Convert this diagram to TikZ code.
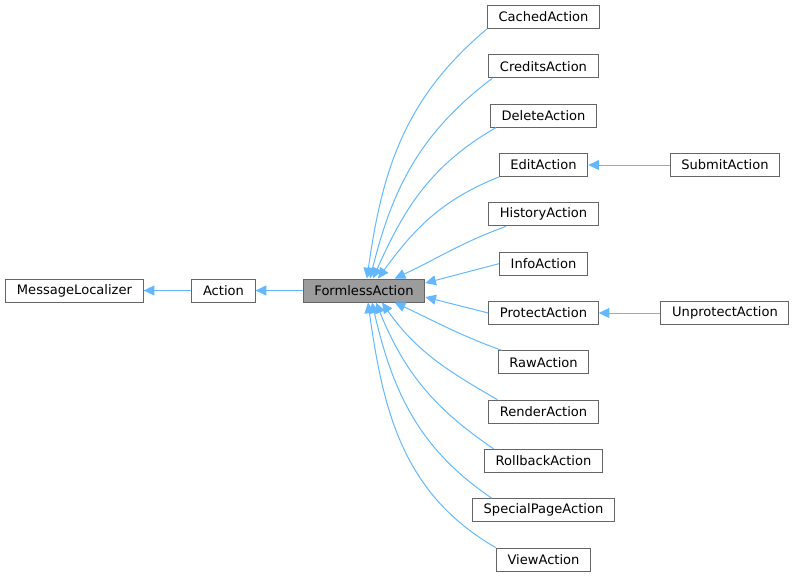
\documentclass[tikz,border=0pt]{standalone}
\usepackage{fontspec}
\setmainfont{DejaVu Sans}
\usetikzlibrary{arrows.meta,
                positioning}
\definecolor{edgeblue}{HTML}{63B8FF}
\definecolor{boxgray}{HTML}{666666}
\tikzset{klass/.style =
   {rectangle,
    draw=boxgray,
    line width=0.75pt,
    fill=white,
    text centered,
    inner xsep=8.4pt,
    inner ysep=0pt,
    minimum height=17.25pt,
    font=\fontsize{9.8pt}{11pt}\selectfont}}
\tikzset{current/.style = {klass, fill=boxgray!65}}
\tikzset{inherit/.style = {draw=edgeblue, line width=0.75pt,
    -{Triangle[length=8pt,width=7.5pt]}}}

\begin{document}
\begin{tikzpicture}[x=0.75pt, y=-0.75pt]
        \useasboundingbox (0,0) rectangle (795,579);

        \node [current] (formless) at (364,290.5) {FormlessAction};

        \node [klass,
               left of = formless,
               node distance = 105.4pt] (action) {Action};

        \node [klass,
               left of = action,
               node distance = 111.75pt] (localizer) {MessageLocalizer};

        % subclasses, one column
        \node [klass] (cached) at (543.5,17) {CachedAction};

        \node [klass,
               below of = cached,
               node distance = 37pt] (credits) {CreditsAction};

        \node [klass,
               below of = credits,
               node distance = 37pt] (delete) {DeleteAction};

        \node [klass,
               below of = delete,
               node distance = 37pt] (edit) {EditAction};

        \node [klass,
               below of = edit,
               node distance = 37pt] (history) {HistoryAction};

        \node [klass,
               below of = history,
               node distance = 37pt] (info) {InfoAction};

        \node [klass,
               below of = info,
               node distance = 37pt] (protect) {ProtectAction};

        \node [klass,
               below of = protect,
               node distance = 37pt] (raw) {RawAction};

        \node [klass,
               below of = raw,
               node distance = 37pt] (render) {RenderAction};

        \node [klass,
               below of = render,
               node distance = 37pt] (rollback) {RollbackAction};

        \node [klass,
               below of = rollback,
               node distance = 37pt] (special) {SpecialPageAction};

        \node [klass,
               below of = special,
               node distance = 37pt] (view) {ViewAction};

        \node [klass,
               right of = edit,
               node distance = 136.1pt] (submit) {SubmitAction};

        \node [klass,
               right of = protect,
               node distance = 136.1pt] (unprotect) {UnprotectAction};

        % inheritance edges
        \draw [inherit] (action) -- (localizer);
        \draw [inherit] (formless) -- (action);
        \draw [inherit] (submit) -- (edit);
        \draw [inherit] (unprotect) -- (protect);

        \draw [inherit] (cached.south west)
         to [out=220, in=82] ([xshift=2.2pt]formless.north);
        \draw [inherit] ([xshift=3pt]credits.south west)
         to [out=217, in=76] ([xshift=4.5pt]formless.north);
        \draw [inherit] ([xshift=4.5pt]delete.south west)
         to [out=210, in=66] ([xshift=6.7pt]formless.north);
        \draw [inherit] (edit.south west)
         to [out=202, in=54] ([xshift=10.5pt]formless.north);
        \draw [inherit] ([xshift=13.5pt]history.south west)
         to [out=200, in=25] ([xshift=23pt]formless.north);
        \draw [inherit] (info.west) -- ([yshift=5.6pt]formless.east);
        \draw [inherit] (protect.west) -- ([yshift=-4.9pt]formless.east);
        \draw [inherit] ([xshift=3pt]raw.north west)
         to [out=160, in=-25] ([xshift=23pt]formless.south);
        \draw [inherit] ([xshift=7pt]render.north west)
         to [out=150, in=-55] ([xshift=13.5pt]formless.south);
        \draw [inherit] ([xshift=7.5pt]rollback.north west)
         to [out=146, in=-68] ([xshift=9pt]formless.south);
        \draw [inherit] ([xshift=15pt]special.north west)
         to [out=146, in=-77] ([xshift=6pt]formless.south);
        \draw [inherit] (view.north west)
         to [out=150, in=-82] ([xshift=3pt]formless.south);

    \end{tikzpicture}
\end{document}
